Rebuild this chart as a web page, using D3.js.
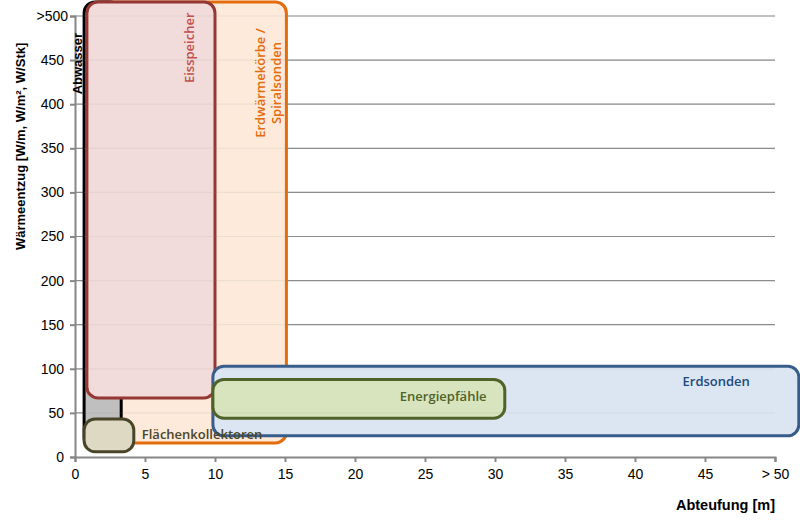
<!DOCTYPE html>
<html lang="de">
<head>
<meta charset="UTF-8">
<script src="https://cdn.jsdelivr.net/npm/d3@7"></script>
<style>
  body { margin: 0; background: #fff; }
  svg { display: block; }
</style>
</head>
<body>
<svg id="chart" width="800" height="522"></svg>
<script>
// data: ranges of each technology (depth in m, heat extraction)
const names = ["Erdwärmekörbe / Spiralsonden", "Abwasser", "Eisspeicher", "Erdsonden", "Energiepfähle", "Flächenkollektoren"];
const depthFrom = [1.0, 0.65, 0.85, 9.85, 9.85, 0.65];
const depthTo = [15.1, 3.3, 10.0, 51.7, 30.7, 4.2];
const heatFrom = [16, 10, 67, 24, 44, 6];
const heatTo = [516, 516, 516, 103, 88, 43];

const xTicks = [0, 5, 10, 15, 20, 25, 30, 35, 40, 45, 50];
const xTickLabels = ["0", "5", "10", "15", "20", "25", "30", "35", "40", "45", "> 50"];
const yTicks = [0, 50, 100, 150, 200, 250, 300, 350, 400, 450, 500];
const yTickLabels = ["0", "50", "100", "150", "200", "250", "300", "350", "400", "450", ">500"];

// styles per box
const boxStyle = {
  "Erdwärmekörbe / Spiralsonden": { stroke: "#e46c0a", fill: "#fdeada", text: "#e46c0a" },
  "Abwasser": { stroke: "#000000", fill: "#bfbfbf", text: "#000000" },
  "Eisspeicher": { stroke: "#953735", fill: "#f2dcdb", text: "#c0504d" },
  "Erdsonden": { stroke: "#385d8a", fill: "#dce6f2", text: "#1f497d" },
  "Energiepfähle": { stroke: "#4f6228", fill: "#d7e4bd", text: "#4f6228" },
  "Flächenkollektoren": { stroke: "#494529", fill: "#ddd9c3", text: "#494529" }
};

const svg = d3.select("#chart");
const plotLeft = 75, plotRight = 775, plotTop = 16, plotBottom = 457;

const x = d3.scaleLinear().domain([0, 50]).range([plotLeft, plotRight]);
const y = d3.scaleLinear().domain([0, 500]).range([plotBottom, plotTop]);

const drawGrid = (opacity) => {
  svg.append("g")
    .attr("opacity", opacity)
    .selectAll("line")
    .data(yTicks.filter(d => d > 0))
    .join("line")
    .attr("x1", plotLeft).attr("x2", plotRight)
    .attr("y1", d => y(d)).attr("y2", d => y(d))
    .attr("stroke", "#8c8c8c")
    .attr("stroke-width", 1.2);
};

// gridlines
drawGrid(1);

// boxes
const boxes = names.map((n, i) => ({ name: n, x0: depthFrom[i], x1: depthTo[i], y0: heatFrom[i], y1: heatTo[i] }));

svg.append("g")
  .selectAll("rect")
  .data(boxes)
  .join("rect")
  .attr("x", d => x(d.x0))
  .attr("y", d => y(d.y1))
  .attr("width", d => x(d.x1) - x(d.x0))
  .attr("height", d => y(d.y0) - y(d.y1))
  .attr("rx", 11).attr("ry", 11)
  .attr("fill", d => boxStyle[d.name].fill)
  .attr("stroke", d => boxStyle[d.name].stroke)
  .attr("stroke-width", 3);

// faint gridlines shining through the boxes
drawGrid(0.12);

// axes
const yAxis = d3.axisLeft(y)
  .tickValues(yTicks)
  .tickFormat((d, i) => yTickLabels[i])
  .tickSize(5)
  .tickPadding(6);

const xAxis = d3.axisBottom(x)
  .tickValues(xTicks)
  .tickFormat((d, i) => xTickLabels[i])
  .tickSize(5)
  .tickPadding(7);

const gy = svg.append("g")
  .attr("transform", `translate(${plotLeft},0)`)
  .call(yAxis);
const gx = svg.append("g")
  .attr("transform", `translate(0,${plotBottom})`)
  .call(xAxis);

[gx, gy].forEach(g => {
  g.select(".domain").attr("stroke", "#868686").attr("stroke-width", 2);
  g.selectAll(".tick line").attr("stroke", "#868686").attr("stroke-width", 2);
  g.selectAll(".tick text")
    .attr("fill", "#000")
    .style("font-family", "'Liberation Sans', Arial, sans-serif")
    .style("font-size", "14px");
});
gy.select(".tick:last-of-type text").attr("dx", 4);

// axis titles
svg.append("text")
  .attr("transform", "translate(25,250) rotate(-90)")
  .attr("text-anchor", "start")
  .style("font-family", "'Liberation Sans', Arial, sans-serif")
  .style("font-size", "13px")
  .style("font-weight", "bold")
  .text("Wärmeentzug [W/m, W/m², W/Stk]");

svg.append("text")
  .attr("x", plotRight)
  .attr("y", 510)
  .attr("text-anchor", "end")
  .style("font-family", "'Liberation Sans', Arial, sans-serif")
  .style("font-size", "14.5px")
  .style("font-weight", "bold")
  .text("Abteufung [m]");

// box labels
const labelFont = "'Open Sans', 'Noto Sans', sans-serif";
const lbl = svg.append("g")
  .style("font-family", labelFont)
  .style("font-size", "13px")
  .style("font-weight", "600");

const byName = n => boxes.find(b => b.name === n);

// Abwasser (rotated, on left edge)
{
  const b = byName("Abwasser");
  lbl.append("text")
    .attr("transform", `translate(${x(b.x0) - 2},${y(446)}) rotate(-90)`)
    .attr("text-anchor", "middle")
    .attr("fill", boxStyle[b.name].text)
    .style("font-family", "'Liberation Sans', Arial, sans-serif")
    .style("font-weight", "bold")
    .text("Abwasser");
}
// Eisspeicher
{
  const b = byName("Eisspeicher");
  lbl.append("text")
    .attr("transform", `translate(${x(b.x1) - 21},${y(464)}) rotate(-90)`)
    .attr("text-anchor", "middle")
    .attr("fill", boxStyle[b.name].text)
    .text("Eisspeicher");
}
// Erdwärmekörbe / Spiralsonden
{
  const b = byName("Erdwärmekörbe / Spiralsonden");
  const t = lbl.append("text")
    .attr("transform", `translate(${x(b.x1) - 21.5},${y(424)}) rotate(-90)`)
    .attr("text-anchor", "middle")
    .attr("fill", boxStyle[b.name].text);
  t.append("tspan").attr("x", 0).attr("dy", 0).text("Erdwärmekörbe /");
  t.append("tspan").attr("x", 0).attr("dy", 16).text("Spiralsonden");
}
// Erdsonden
{
  const b = byName("Erdsonden");
  lbl.append("text")
    .attr("x", x(45.8)).attr("y", y(81))
    .attr("text-anchor", "middle")
    .attr("fill", boxStyle[b.name].text)
    .text("Erdsonden");
}
// Energiepfähle
{
  const b = byName("Energiepfähle");
  lbl.append("text")
    .attr("x", x(26.3)).attr("y", y(63))
    .attr("text-anchor", "middle")
    .attr("fill", boxStyle[b.name].text)
    .text("Energiepfähle");
}
// Flächenkollektoren
{
  const b = byName("Flächenkollektoren");
  lbl.append("text")
    .attr("x", x(b.x1) + 8).attr("y", y(20))
    .attr("text-anchor", "start")
    .attr("fill", boxStyle[b.name].text)
    .text("Flächenkollektoren");
}
</script>
</body>
</html>
